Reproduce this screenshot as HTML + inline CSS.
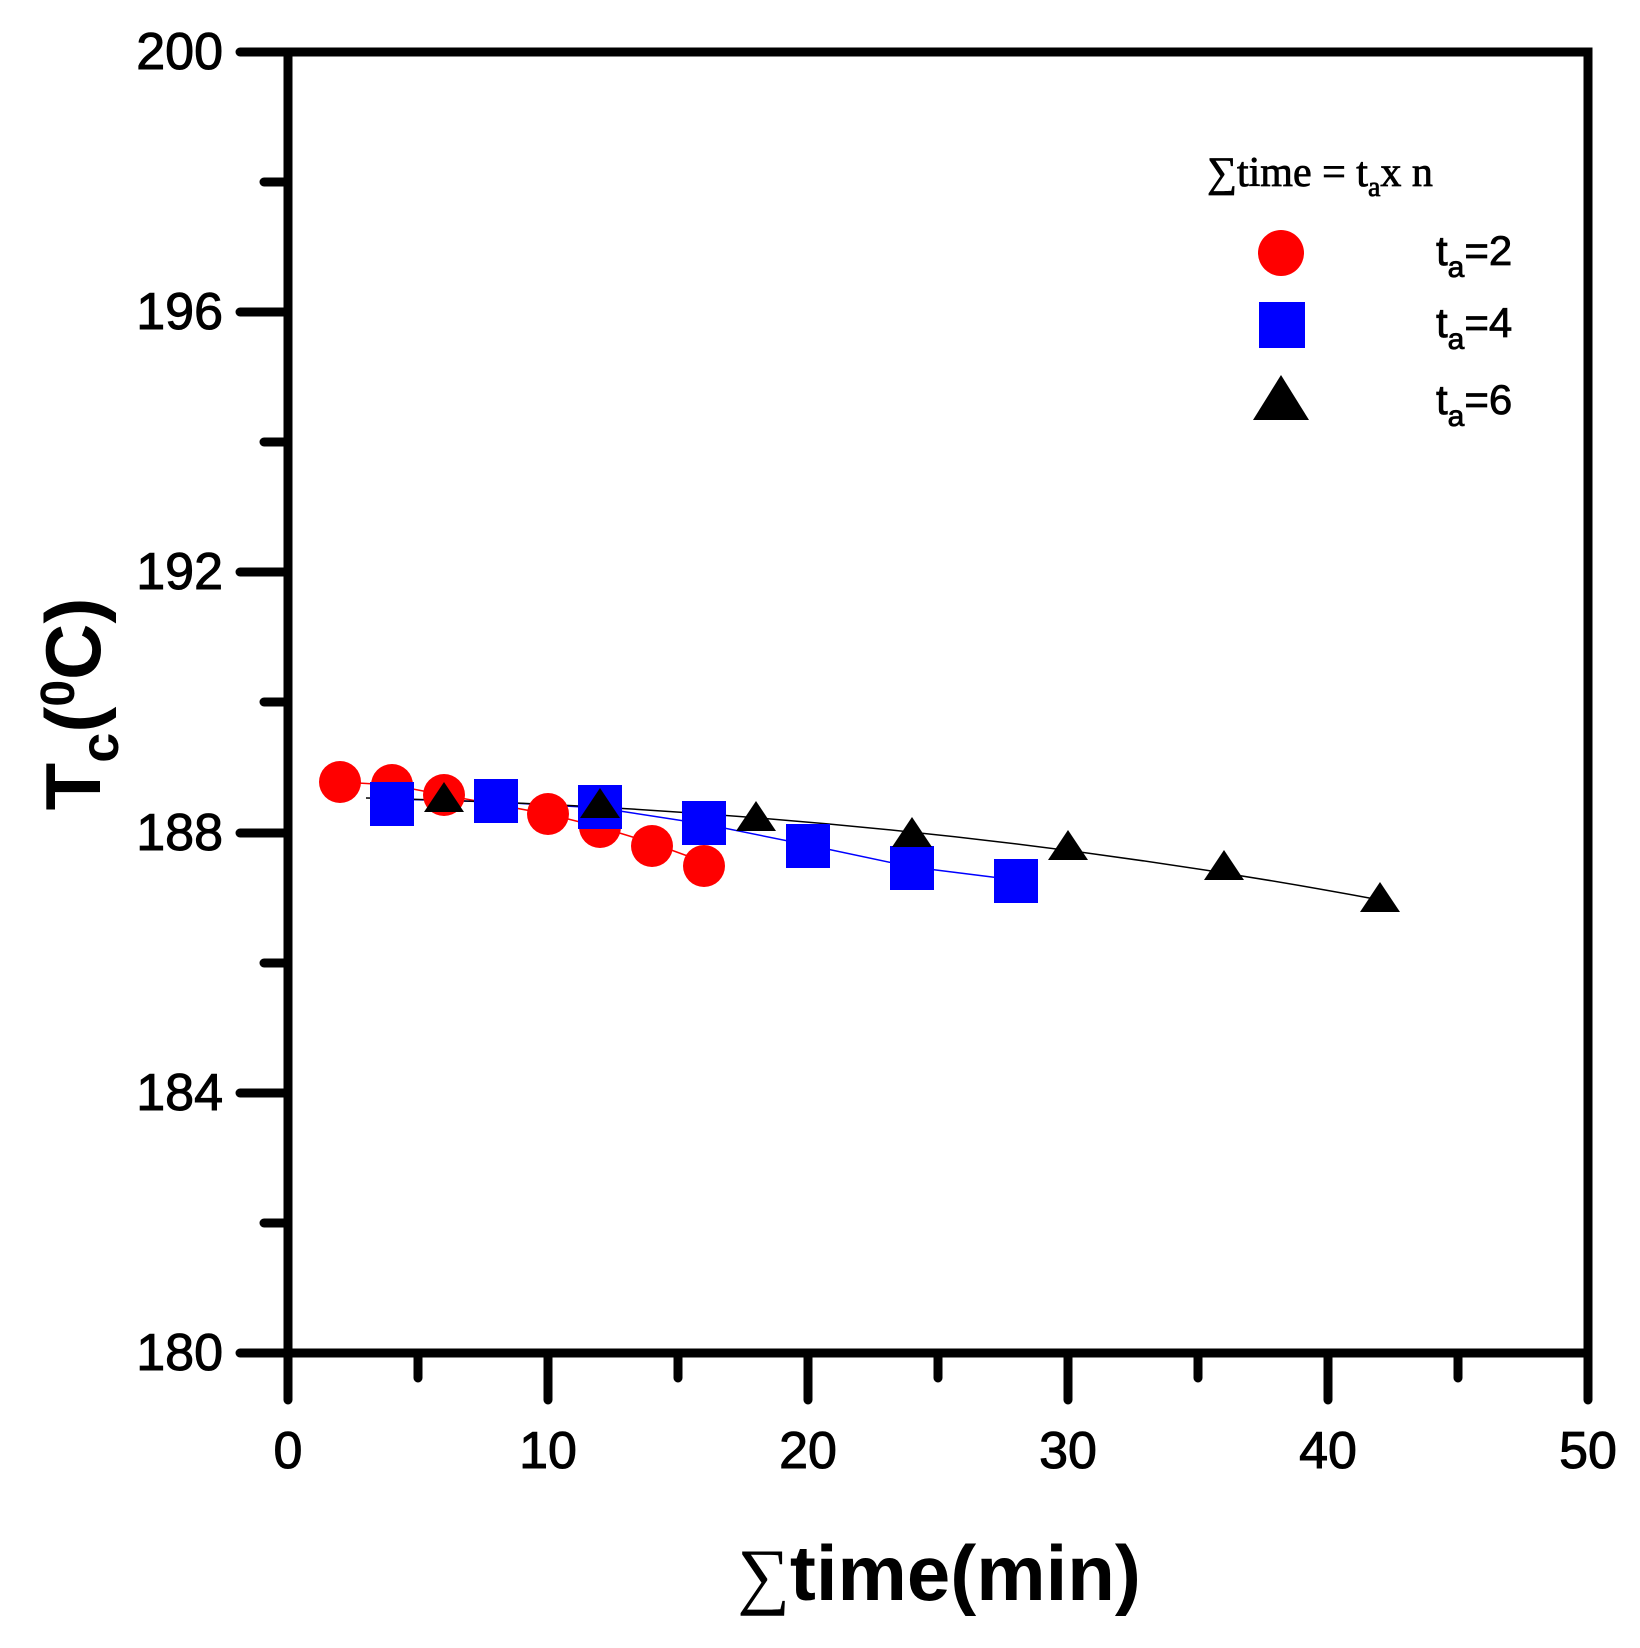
<!DOCTYPE html>
<html><head><style>body{margin:0;background:#fff}svg{display:block}</style></head><body>
<svg width="1640" height="1648" viewBox="0 0 1640 1648" xmlns="http://www.w3.org/2000/svg" font-family="Liberation Sans, Arial, sans-serif">
<g stroke="#000" stroke-width="9" stroke-linecap="round" fill="none">
<rect x="288" y="52" width="1300" height="1301"/>
<path d="M240 52H288M240 312H288M240 572H288M240 833H288M240 1093H288M240 1353H288"/>
<path d="M264 182H288M264 442H288M264 702H288M264 963H288M264 1223H288"/>
<path d="M288 1353V1400M548 1353V1400M808 1353V1400M1068 1353V1400M1328 1353V1400M1588 1353V1400"/>
<path d="M418 1353V1378M678 1353V1378M938 1353V1378M1198 1353V1378M1458 1353V1378"/>
</g>
<g font-size="52" text-anchor="end" dominant-baseline="central" stroke="#000" stroke-width="1">
<text x="223" y="52">200</text><text x="223" y="312">196</text><text x="223" y="572">192</text><text x="223" y="833">188</text><text x="223" y="1093">184</text><text x="223" y="1353">180</text>
</g>
<g font-size="52" text-anchor="middle" dominant-baseline="central" stroke="#000" stroke-width="1">
<text x="288" y="1451">0</text><text x="548" y="1451">10</text><text x="808" y="1451">20</text><text x="1068" y="1451">30</text><text x="1328" y="1451">40</text><text x="1588" y="1451">50</text>
</g>
<text x="939" y="1600" font-size="78" font-weight="bold" text-anchor="middle"><tspan font-family="Liberation Serif, serif" font-weight="normal" font-size="74">∑</tspan>time(min)</text>
<text transform="translate(100,704) rotate(-90)" font-size="78" font-weight="bold" text-anchor="middle">T<tspan font-size="54" dy="18">c</tspan><tspan dy="-18">(</tspan><tspan font-size="48" dy="-26">0</tspan><tspan dy="26">C)</tspan></text>
<polyline fill="none" stroke="#f00" stroke-width="1.5" points="340,782 392,785 444,795 548,814 600,827 652,843 704,862"/>
<polyline fill="none" stroke="#00f" stroke-width="1.5" points="392,799 496,802 600,808 704,824 808,845 912,867 1016,880"/>
<path fill="none" stroke="#000" stroke-width="1.5" d="M366 798 Q 900 810 1380 900"/>
<g fill="#f00">
<circle cx="340" cy="782" r="21"/><circle cx="392" cy="785" r="21"/><circle cx="444" cy="795" r="21"/><circle cx="548" cy="814" r="21"/><circle cx="600" cy="827" r="21"/><circle cx="652" cy="846" r="21"/><circle cx="704" cy="866" r="21"/>
</g>
<g fill="#00f">
<rect x="370" y="782" width="44" height="44"/><rect x="474" y="779" width="44" height="44"/><rect x="578" y="785" width="44" height="44"/><rect x="682" y="801" width="44" height="44"/><rect x="786" y="824" width="44" height="44"/><rect x="890" y="846" width="44" height="44"/><rect x="994" y="859" width="44" height="44"/>
</g>
<g fill="#000">
<path d="M444 782l20 30h-40z"/><path d="M600 788l20 30h-40z"/><path d="M756 801l20 30h-40z"/><path d="M912 817l20 30h-40z"/><path d="M1068 830l20 30h-40z"/><path d="M1224 850l20 30h-40z"/><path d="M1380 882l20 30h-40z"/>
</g>
<text x="1207" y="186" font-size="42" font-family="Liberation Serif, serif" stroke="#000" stroke-width="0.8">∑time = t<tspan font-size="28" dy="10">a</tspan><tspan dy="-10">x n</tspan></text>
<circle cx="1281" cy="253" r="23" fill="#f00"/>
<rect x="1259" y="302" width="46" height="46" fill="#00f"/>
<path d="M1281 375l28 45h-56z" fill="#000"/>
<g font-size="42" stroke="#000" stroke-width="0.8">
<text x="1436" y="265">t<tspan font-size="30" dy="12">a</tspan><tspan dy="-12">=2</tspan></text>
<text x="1436" y="337">t<tspan font-size="30" dy="12">a</tspan><tspan dy="-12">=4</tspan></text>
<text x="1436" y="414">t<tspan font-size="30" dy="12">a</tspan><tspan dy="-12">=6</tspan></text>
</g>
</svg>
</body></html>
